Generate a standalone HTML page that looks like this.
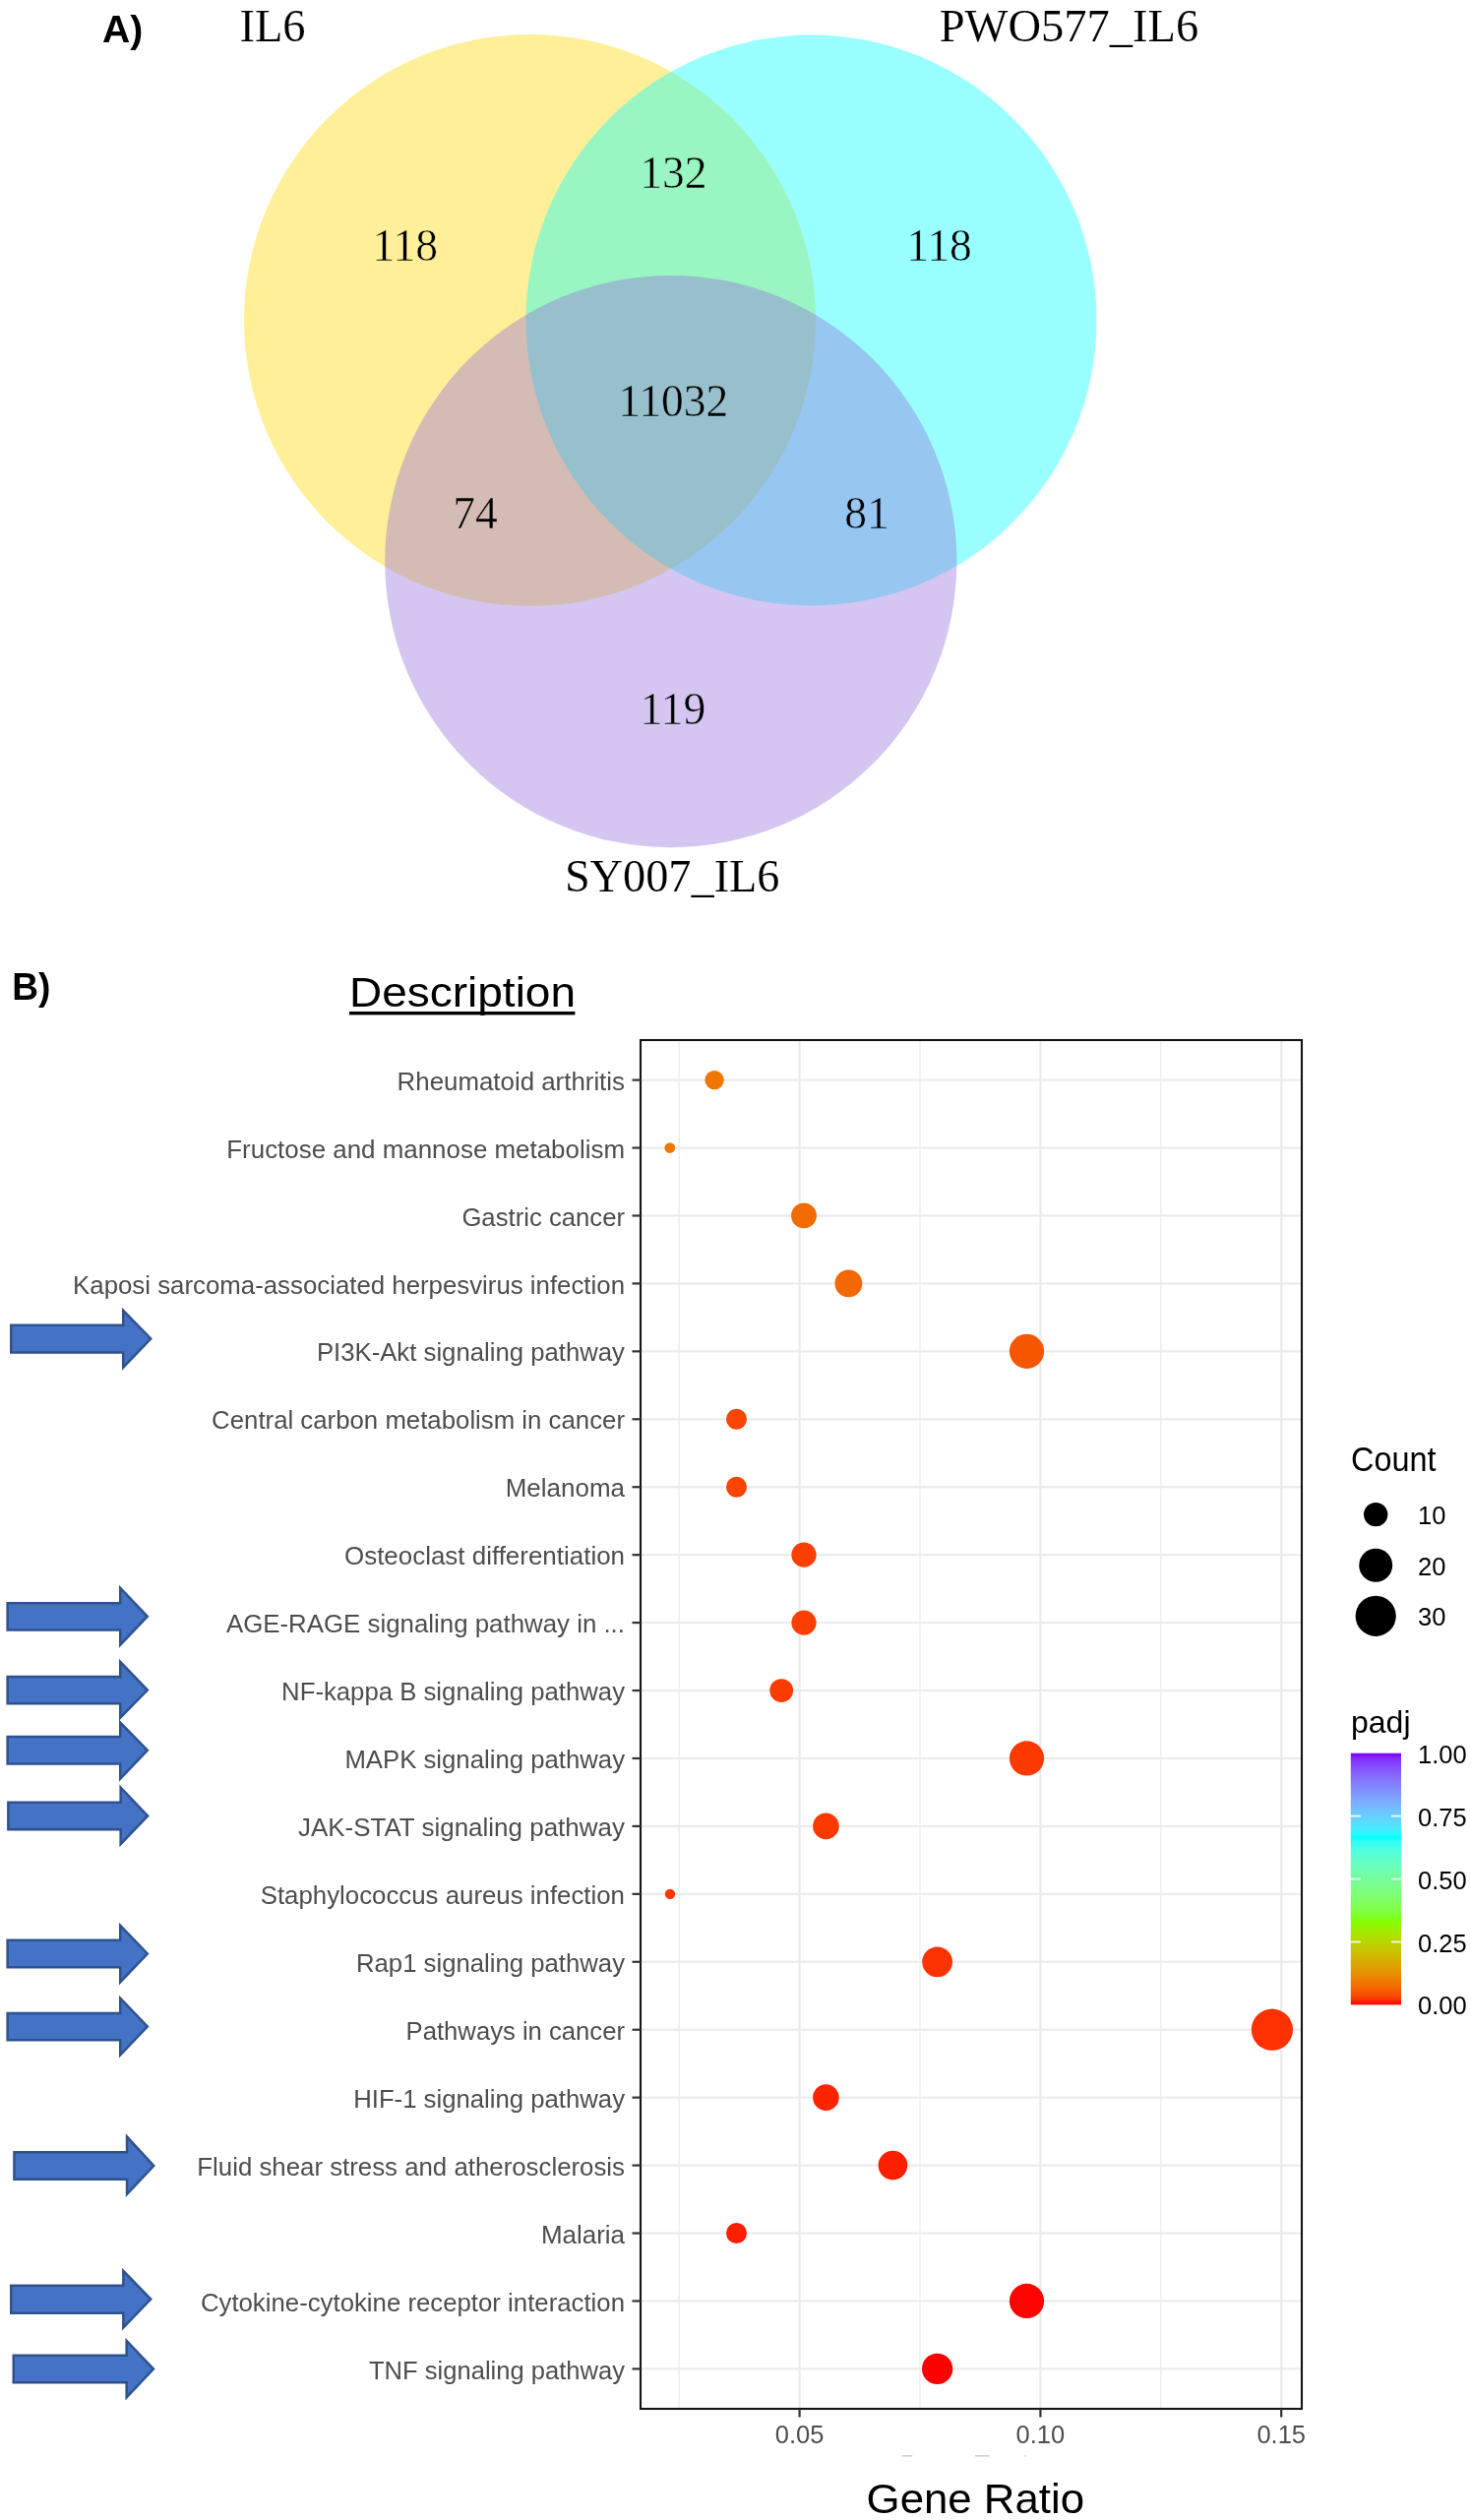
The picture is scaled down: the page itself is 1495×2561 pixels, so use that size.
<!DOCTYPE html>
<html><head><meta charset="utf-8"><title>Figure</title>
<style>
html,body{margin:0;padding:0;background:#fff;}
body{width:1495px;height:2561px;overflow:hidden;position:relative;}
svg{position:absolute;left:0;top:0;display:block;will-change:transform;}
.serif{font-family:"Liberation Serif",serif;}
.sans{font-family:"Liberation Sans",sans-serif;}
</style></head><body>
<svg width="1495" height="2561" viewBox="0 0 1495 2561">
<rect x="0" y="0" width="1495" height="2561" fill="#ffffff"/>

<g>
<circle cx="538.5" cy="325.5" r="290.5" fill="#ffd700" fill-opacity="0.4"/>
<circle cx="824.5" cy="325.5" r="290" fill="#00ffff" fill-opacity="0.4"/>
<circle cx="681.8" cy="570.6" r="290.6" fill="#9370db" fill-opacity="0.4"/>
</g>
<g class="serif" fill="#000" text-anchor="middle">
<text x="277" y="41.6" font-size="46.5" stroke="#ffffff" stroke-width="0.15">IL6</text>
<text x="1086.5" y="41.8" font-size="46.5" stroke="#ffffff" stroke-width="0.15">PWO577_IL6</text>
<text x="683.2" y="906" font-size="46.3" stroke="#ffffff" stroke-width="0.15">SY007_IL6</text>
<text x="411.7" y="265.4" font-size="45.5" stroke="#ffef99" stroke-width="0.5">118</text>
<text x="684.35" y="190.6" font-size="45.5" stroke="#99f5c2" stroke-width="0.5">132</text>
<text x="954.6" y="265.4" font-size="45.5" stroke="#99ffff" stroke-width="0.5">118</text>
<text x="684.25" y="422.7" font-size="45.5" stroke="#97c0cc" stroke-width="0.5">11032</text>
<text x="482.9" y="537" font-size="45.5" stroke="#d4bcb3" stroke-width="0.5">74</text>
<text x="881" y="537" font-size="45.5" stroke="#97c6f1" stroke-width="0.5">81</text>
<text x="684.05" y="736.3" font-size="45.5" stroke="#d4c6f1" stroke-width="0.5">119</text>
</g>
<g class="sans" font-weight="bold" font-size="39" fill="#000">
<text x="104" y="42.7">A)</text>
<text x="12.3" y="1016.2" textLength="39.2" lengthAdjust="spacingAndGlyphs">B)</text>
</g>
<text class="sans" x="355" y="1022.6" font-size="42.5" fill="#000" textLength="230" lengthAdjust="spacingAndGlyphs">Description</text>
<rect x="355" y="1028" width="229.4" height="3.4" fill="#000"/>
<g>
<rect x="689.60" y="1057" width="1.2" height="1391" fill="#ebebeb"/>
<rect x="934.40" y="1057" width="1.2" height="1391" fill="#ebebeb"/>
<rect x="1179.20" y="1057" width="1.2" height="1391" fill="#ebebeb"/>
<rect x="811.50" y="1057" width="2.2" height="1391" fill="#ebebeb"/>
<rect x="1056.30" y="1057" width="2.2" height="1391" fill="#ebebeb"/>
<rect x="1301.10" y="1057" width="2.2" height="1391" fill="#ebebeb"/>
<rect x="651" y="1096.50" width="672" height="2.2" fill="#ebebeb"/>
<rect x="651" y="1165.44" width="672" height="2.2" fill="#ebebeb"/>
<rect x="651" y="1234.37" width="672" height="2.2" fill="#ebebeb"/>
<rect x="651" y="1303.31" width="672" height="2.2" fill="#ebebeb"/>
<rect x="651" y="1372.25" width="672" height="2.2" fill="#ebebeb"/>
<rect x="651" y="1441.18" width="672" height="2.2" fill="#ebebeb"/>
<rect x="651" y="1510.12" width="672" height="2.2" fill="#ebebeb"/>
<rect x="651" y="1579.06" width="672" height="2.2" fill="#ebebeb"/>
<rect x="651" y="1647.99" width="672" height="2.2" fill="#ebebeb"/>
<rect x="651" y="1716.93" width="672" height="2.2" fill="#ebebeb"/>
<rect x="651" y="1785.87" width="672" height="2.2" fill="#ebebeb"/>
<rect x="651" y="1854.81" width="672" height="2.2" fill="#ebebeb"/>
<rect x="651" y="1923.74" width="672" height="2.2" fill="#ebebeb"/>
<rect x="651" y="1992.68" width="672" height="2.2" fill="#ebebeb"/>
<rect x="651" y="2061.62" width="672" height="2.2" fill="#ebebeb"/>
<rect x="651" y="2130.55" width="672" height="2.2" fill="#ebebeb"/>
<rect x="651" y="2199.49" width="672" height="2.2" fill="#ebebeb"/>
<rect x="651" y="2268.43" width="672" height="2.2" fill="#ebebeb"/>
<rect x="651" y="2337.36" width="672" height="2.2" fill="#ebebeb"/>
<rect x="651" y="2406.30" width="672" height="2.2" fill="#ebebeb"/>
<circle cx="726.1" cy="1097.60" r="9.7" fill="#ef7700"/>
<circle cx="680.8" cy="1166.54" r="5.4" fill="#ef7800"/>
<circle cx="817" cy="1235.47" r="12.9" fill="#f26b00"/>
<circle cx="862.4" cy="1304.41" r="13.9" fill="#f36800"/>
<circle cx="1043.5" cy="1373.35" r="17.6" fill="#f75600"/>
<circle cx="748.5" cy="1442.28" r="10.5" fill="#fa4400"/>
<circle cx="748.5" cy="1511.22" r="10.5" fill="#fa4400"/>
<circle cx="817" cy="1580.16" r="12.6" fill="#fb3f00"/>
<circle cx="817" cy="1649.09" r="12.6" fill="#fb3f00"/>
<circle cx="794.2" cy="1718.03" r="11.9" fill="#fb3c00"/>
<circle cx="1043.5" cy="1786.97" r="17.6" fill="#fc3900"/>
<circle cx="839.4" cy="1855.91" r="13.3" fill="#fc3900"/>
<circle cx="681" cy="1924.84" r="5.2" fill="#fc3600"/>
<circle cx="952.6" cy="1993.78" r="15.4" fill="#fc3300"/>
<circle cx="1292.9" cy="2062.72" r="21.1" fill="#fd3000"/>
<circle cx="839.4" cy="2131.65" r="13.3" fill="#fd2500"/>
<circle cx="907.4" cy="2200.59" r="14.8" fill="#fe1e00"/>
<circle cx="748.5" cy="2269.53" r="10.5" fill="#fe2000"/>
<circle cx="1043.5" cy="2338.46" r="17.6" fill="#ff0300"/>
<circle cx="952.6" cy="2407.40" r="15.6" fill="#ff0000"/>
<rect x="651" y="1057" width="672" height="1391" fill="none" stroke="#141414" stroke-width="2.1"/>
<g class="sans" font-size="25.9" fill="#4d4d4d" text-anchor="end">
<rect x="642.5" y="1096.50" width="8.5" height="2.2" fill="#333"/>
<text x="635" y="1107.70" textLength="231.4" lengthAdjust="spacingAndGlyphs">Rheumatoid arthritis</text>
<rect x="642.5" y="1165.44" width="8.5" height="2.2" fill="#333"/>
<text x="635" y="1176.64" textLength="404.7" lengthAdjust="spacingAndGlyphs">Fructose and mannose metabolism</text>
<rect x="642.5" y="1234.37" width="8.5" height="2.2" fill="#333"/>
<text x="635" y="1245.57" textLength="165.6" lengthAdjust="spacingAndGlyphs">Gastric cancer</text>
<rect x="642.5" y="1303.31" width="8.5" height="2.2" fill="#333"/>
<text x="635" y="1314.51" textLength="560.9" lengthAdjust="spacingAndGlyphs">Kaposi sarcoma-associated herpesvirus infection</text>
<rect x="642.5" y="1372.25" width="8.5" height="2.2" fill="#333"/>
<text x="635" y="1383.45" textLength="313.1" lengthAdjust="spacingAndGlyphs">PI3K-Akt signaling pathway</text>
<rect x="642.5" y="1441.18" width="8.5" height="2.2" fill="#333"/>
<text x="635" y="1452.38" textLength="419.9" lengthAdjust="spacingAndGlyphs">Central carbon metabolism in cancer</text>
<rect x="642.5" y="1510.12" width="8.5" height="2.2" fill="#333"/>
<text x="635" y="1521.32" textLength="121.3" lengthAdjust="spacingAndGlyphs">Melanoma</text>
<rect x="642.5" y="1579.06" width="8.5" height="2.2" fill="#333"/>
<text x="635" y="1590.26" textLength="285.0" lengthAdjust="spacingAndGlyphs">Osteoclast differentiation</text>
<rect x="642.5" y="1647.99" width="8.5" height="2.2" fill="#333"/>
<text x="635" y="1659.19" textLength="405.1" lengthAdjust="spacingAndGlyphs">AGE-RAGE signaling pathway in ...</text>
<rect x="642.5" y="1716.93" width="8.5" height="2.2" fill="#333"/>
<text x="635" y="1728.13" textLength="348.9" lengthAdjust="spacingAndGlyphs">NF-kappa B signaling pathway</text>
<rect x="642.5" y="1785.87" width="8.5" height="2.2" fill="#333"/>
<text x="635" y="1797.07" textLength="284.6" lengthAdjust="spacingAndGlyphs">MAPK signaling pathway</text>
<rect x="642.5" y="1854.81" width="8.5" height="2.2" fill="#333"/>
<text x="635" y="1866.01" textLength="332.1" lengthAdjust="spacingAndGlyphs">JAK-STAT signaling pathway</text>
<rect x="642.5" y="1923.74" width="8.5" height="2.2" fill="#333"/>
<text x="635" y="1934.94" textLength="370.3" lengthAdjust="spacingAndGlyphs">Staphylococcus aureus infection</text>
<rect x="642.5" y="1992.68" width="8.5" height="2.2" fill="#333"/>
<text x="635" y="2003.88" textLength="273.0" lengthAdjust="spacingAndGlyphs">Rap1 signaling pathway</text>
<rect x="642.5" y="2061.62" width="8.5" height="2.2" fill="#333"/>
<text x="635" y="2072.82" textLength="222.4" lengthAdjust="spacingAndGlyphs">Pathways in cancer</text>
<rect x="642.5" y="2130.55" width="8.5" height="2.2" fill="#333"/>
<text x="635" y="2141.75" textLength="275.8" lengthAdjust="spacingAndGlyphs">HIF-1 signaling pathway</text>
<rect x="642.5" y="2199.49" width="8.5" height="2.2" fill="#333"/>
<text x="635" y="2210.69" textLength="434.7" lengthAdjust="spacingAndGlyphs">Fluid shear stress and atherosclerosis</text>
<rect x="642.5" y="2268.43" width="8.5" height="2.2" fill="#333"/>
<text x="635" y="2279.63" textLength="85.1" lengthAdjust="spacingAndGlyphs">Malaria</text>
<rect x="642.5" y="2337.36" width="8.5" height="2.2" fill="#333"/>
<text x="635" y="2348.56" textLength="431.1" lengthAdjust="spacingAndGlyphs">Cytokine-cytokine receptor interaction</text>
<rect x="642.5" y="2406.30" width="8.5" height="2.2" fill="#333"/>
<text x="635" y="2417.50" textLength="260.0" lengthAdjust="spacingAndGlyphs">TNF signaling pathway</text>
</g>
<g class="sans" font-size="25.5" fill="#4d4d4d" text-anchor="middle">
<rect x="811.50" y="2448" width="2.2" height="8.5" fill="#333"/>
<text x="812.60" y="2483">0.05</text>
<rect x="1056.30" y="2448" width="2.2" height="8.5" fill="#333"/>
<text x="1057.40" y="2483">0.10</text>
<rect x="1301.10" y="2448" width="2.2" height="8.5" fill="#333"/>
<text x="1302.20" y="2483">0.15</text>
</g>
</g>
<text class="sans" x="880.6" y="2554" font-size="43.3" fill="#000" textLength="221.5" lengthAdjust="spacingAndGlyphs">Gene Ratio</text>
<rect x="916.7" y="2495" width="10.6" height="1.6" fill="#d0d0d0"/>
<rect x="991" y="2495" width="14.6" height="1.6" fill="#d0d0d0"/>
<rect x="1041.5" y="2495" width="1.5" height="1.6" fill="#d0d0d0"/>
<g class="sans" fill="#000">
<text x="1373.0" y="1494.7" font-size="35.5" textLength="86.5" lengthAdjust="spacingAndGlyphs">Count</text>
<circle cx="1398.2" cy="1539.1" r="12.2" fill="#000"/>
<text x="1441" y="1549.1" font-size="25.5">10</text>
<circle cx="1398.2" cy="1590.7" r="17" fill="#000"/>
<text x="1441" y="1600.7" font-size="25.5">20</text>
<circle cx="1398.2" cy="1642.3" r="20.6" fill="#000"/>
<text x="1441" y="1652.3" font-size="25.5">30</text>
<text x="1373" y="1761.2" font-size="32">padj</text>
<defs><linearGradient id="cb" x1="0" y1="0" x2="0" y2="1"><stop offset="0.000" stop-color="#8000ff"/><stop offset="0.025" stop-color="#8332ff"/><stop offset="0.050" stop-color="#844aff"/><stop offset="0.075" stop-color="#855eff"/><stop offset="0.100" stop-color="#8570ff"/><stop offset="0.125" stop-color="#8381ff"/><stop offset="0.150" stop-color="#8191ff"/><stop offset="0.175" stop-color="#7da0ff"/><stop offset="0.200" stop-color="#78b0ff"/><stop offset="0.225" stop-color="#71bfff"/><stop offset="0.250" stop-color="#67ceff"/><stop offset="0.275" stop-color="#5adcff"/><stop offset="0.300" stop-color="#47ebff"/><stop offset="0.325" stop-color="#23faff"/><stop offset="0.333" stop-color="#00ffff"/><stop offset="0.350" stop-color="#2dfff5"/><stop offset="0.375" stop-color="#47ffe7"/><stop offset="0.400" stop-color="#56ffd8"/><stop offset="0.425" stop-color="#62fec9"/><stop offset="0.450" stop-color="#6afeba"/><stop offset="0.475" stop-color="#71feab"/><stop offset="0.500" stop-color="#76fe9c"/><stop offset="0.525" stop-color="#7afe8d"/><stop offset="0.550" stop-color="#7dfe7d"/><stop offset="0.575" stop-color="#7fff6c"/><stop offset="0.600" stop-color="#80ff59"/><stop offset="0.625" stop-color="#81ff44"/><stop offset="0.650" stop-color="#80ff29"/><stop offset="0.667" stop-color="#80ff00"/><stop offset="0.675" stop-color="#88fb00"/><stop offset="0.700" stop-color="#9bef00"/><stop offset="0.725" stop-color="#abe200"/><stop offset="0.750" stop-color="#b9d500"/><stop offset="0.775" stop-color="#c4c800"/><stop offset="0.800" stop-color="#cfbb00"/><stop offset="0.825" stop-color="#d7ad00"/><stop offset="0.850" stop-color="#df9f00"/><stop offset="0.875" stop-color="#e69000"/><stop offset="0.900" stop-color="#ec7f00"/><stop offset="0.925" stop-color="#f26d00"/><stop offset="0.950" stop-color="#f75800"/><stop offset="0.975" stop-color="#fb3d00"/><stop offset="1.000" stop-color="#ff0000"/></linearGradient></defs>
<rect x="1372.8" y="1781.7" width="51.2" height="255.7" fill="url(#cb)"/>
<text x="1441" y="1791.7" font-size="25.5">1.00</text>
<rect x="1372.8" y="1844.8" width="10" height="1.6" fill="#fff"/>
<rect x="1414" y="1844.8" width="10" height="1.6" fill="#fff"/>
<text x="1441" y="1855.6" font-size="25.5">0.75</text>
<rect x="1372.8" y="1908.8" width="10" height="1.6" fill="#fff"/>
<rect x="1414" y="1908.8" width="10" height="1.6" fill="#fff"/>
<text x="1441" y="1919.6" font-size="25.5">0.50</text>
<rect x="1372.8" y="1972.7" width="10" height="1.6" fill="#fff"/>
<rect x="1414" y="1972.7" width="10" height="1.6" fill="#fff"/>
<text x="1441" y="1983.5" font-size="25.5">0.25</text>
<text x="1441" y="2047.4" font-size="25.5">0.00</text>
</g>
<path d="M11.25,1346.85 L125.25,1346.85 L125.25,1331.77 L153.23,1360.5 L125.25,1389.63 L125.25,1374.45 L11.25,1374.45 Z" fill="#4472c4" stroke="#2f528f" stroke-width="2.5" stroke-linejoin="miter"/>
<path d="M7.65,1629.15 L122.25,1629.15 L122.25,1613.77 L149.82999999999998,1642.7 L122.25,1671.63 L122.25,1656.55 L7.65,1656.55 Z" fill="#4472c4" stroke="#2f528f" stroke-width="2.5" stroke-linejoin="miter"/>
<path d="M7.65,1703.95 L122.25,1703.95 L122.25,1688.77 L149.82999999999998,1717.6 L122.25,1745.73 L122.25,1731.35 L7.65,1731.35 Z" fill="#4472c4" stroke="#2f528f" stroke-width="2.5" stroke-linejoin="miter"/>
<path d="M7.65,1765.05 L122.25,1765.05 L122.25,1750.67 L149.82999999999998,1778.7 L122.25,1807.63 L122.25,1792.45 L7.65,1792.45 Z" fill="#4472c4" stroke="#2f528f" stroke-width="2.5" stroke-linejoin="miter"/>
<path d="M8.35,1831.75 L122.65,1831.75 L122.65,1816.57 L150.13,1845.4 L122.65,1874.23 L122.65,1859.15 L8.35,1859.15 Z" fill="#4472c4" stroke="#2f528f" stroke-width="2.5" stroke-linejoin="miter"/>
<path d="M7.65,1971.85 L122.25,1971.85 L122.25,1956.77 L149.82999999999998,1985.5 L122.25,2014.33 L122.25,1999.25 L7.65,1999.25 Z" fill="#4472c4" stroke="#2f528f" stroke-width="2.5" stroke-linejoin="miter"/>
<path d="M7.65,2045.95 L122.25,2045.95 L122.25,2030.77 L149.82999999999998,2059.6 L122.25,2088.43 L122.25,2073.35 L7.65,2073.35 Z" fill="#4472c4" stroke="#2f528f" stroke-width="2.5" stroke-linejoin="miter"/>
<path d="M14.45,2187.35 L129.05,2187.35 L129.05,2171.57 L156.23,2201 L129.05,2229.83 L129.05,2214.75 L14.45,2214.75 Z" fill="#4472c4" stroke="#2f528f" stroke-width="2.5" stroke-linejoin="miter"/>
<path d="M11.25,2322.75 L125.35,2322.75 L125.35,2307.77 L153.23,2336.6 L125.35,2365.43 L125.35,2350.65 L11.25,2350.65 Z" fill="#4472c4" stroke="#2f528f" stroke-width="2.5" stroke-linejoin="miter"/>
<path d="M13.75,2393.85 L128.65,2393.85 L128.65,2378.77 L155.92999999999998,2407.6 L128.65,2436.43 L128.65,2421.35 L13.75,2421.35 Z" fill="#4472c4" stroke="#2f528f" stroke-width="2.5" stroke-linejoin="miter"/>
</svg>
</body></html>
